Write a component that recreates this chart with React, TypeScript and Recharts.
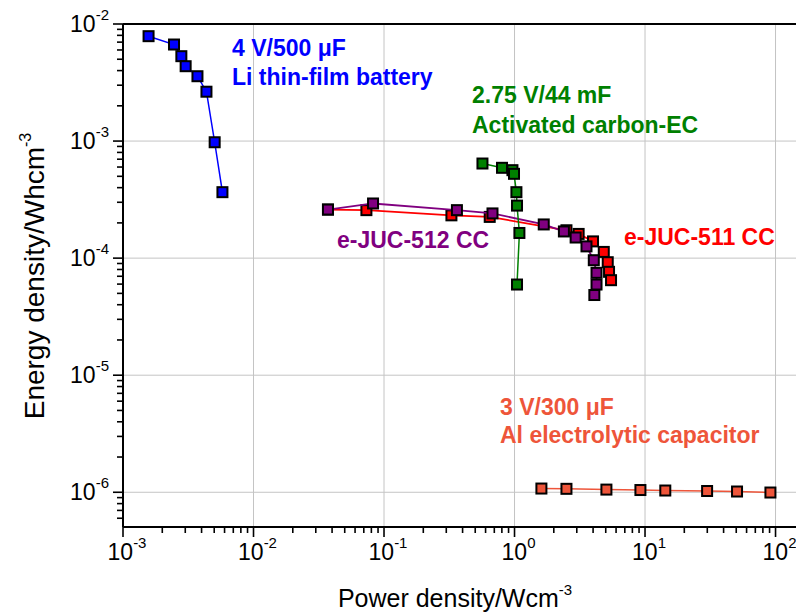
import React from 'react';
import { ScatterChart, Scatter, XAxis, YAxis, ReferenceLine } from 'recharts';

const FONT = '"Liberation Sans", Arial, Helvetica, sans-serif';

// ---- tick labels ----
const xMajorTicks = [1e-3, 1e-2, 1e-1, 1, 10, 100];
const xTickExponents = ['-3', '-2', '-1', '0', '1', '2'];
const yMajorTicks = [1e-6, 1e-5, 1e-4, 1e-3, 1e-2];
const yTickExponents = ['-6', '-5', '-4', '-3', '-2'];
const minorMultipliers = [2, 3, 4, 5, 6, 7, 8, 9];

const xDomain = [1e-3, 143.5];
const yDomain = [5.05e-7, 1e-2];

// ---- series: Li thin-film battery (4 V/500 uF) ----
const liBatteryPower = [0.00157, 0.00246, 0.0028, 0.00302, 0.00372, 0.00436, 0.00504, 0.00578];
const liBatteryEnergy = [0.00787, 0.00668, 0.00531, 0.00436, 0.00358, 0.00264, 0.000977, 0.000366];

// ---- series: Activated carbon EC (2.75 V/44 mF) ----
const carbonPower = [0.568, 0.802, 0.964, 0.991, 1.034, 1.045, 1.09, 1.045];
const carbonEnergy = [0.000643, 0.000591, 0.000564, 0.000525, 0.000366, 0.000281, 0.000164, 0.0000595];

// ---- series: e-JUC-511 CC ----
const juc511Power = [0.0372, 0.0733, 0.3285, 0.6457, 2.5, 3.1, 3.995, 4.83, 5.18, 5.3, 5.49];
const juc511Energy = [0.00026, 0.000257, 0.000232, 0.000225, 0.000173, 0.000161, 0.000139, 0.000113, 0.0000923, 0.0000764, 0.0000648];

// ---- series: e-JUC-512 CC ----
const juc512Power = [0.0372, 0.0824, 0.362, 0.678, 1.675, 2.39, 2.94, 3.56, 4.05, 4.25, 4.25, 4.09];
const juc512Energy = [0.00026, 0.000293, 0.000257, 0.000241, 0.000194, 0.000169, 0.00015, 0.000126, 0.000096, 0.0000749, 0.0000595, 0.0000484];

// ---- series: Al electrolytic capacitor (3 V/300 uF) ----
const alCapPower = [1.607, 2.5, 5.06, 9.22, 14.3, 29.9, 50.7, 91.4];
const alCapEnergy = [1.076e-6, 1.07e-6, 1.054e-6, 1.045e-6, 1.035e-6, 1.025e-6, 1.015e-6, 0.995e-6];

const zip = (xs: number[], ys: number[]) => xs.map((x, i) => ({ x, y: ys[i] }));

const liBatteryData = zip(liBatteryPower, liBatteryEnergy);
const carbonData = zip(carbonPower, carbonEnergy);
const juc511Data = zip(juc511Power, juc511Energy);
const juc512Data = zip(juc512Power, juc512Energy);
const alCapData = zip(alCapPower, alCapEnergy);

const buildTicks = (majors: number[], domain: number[]) => {
  const out: number[] = [];
  majors.forEach((m) => {
    out.push(m);
    minorMultipliers.forEach((k) => out.push(m * k));
  });
  const lowDecade = majors[0] / 10;
  minorMultipliers.forEach((k) => out.push(lowDecade * k));
  return out
    .filter((v) => v >= domain[0] * 0.9999 && v <= domain[1] * 1.0001)
    .sort((a, b) => a - b);
};

const xTicks = buildTicks(xMajorTicks, xDomain);
const yTicks = buildTicks(yMajorTicks, yDomain);

const majorIndex = (v: number, majors: number[]) =>
  majors.findIndex((t) => Math.abs(Math.log10(t) - Math.log10(v)) < 1e-6);

const XTick = (props: any) => {
  const { x, y, payload } = props;
  const idx = majorIndex(payload.value, xMajorTicks);
  const major = idx >= 0;
  return (
    <g>
      <line x1={x} x2={x} y1={y} y2={y + (major ? 10 : 6)} stroke="#000" strokeWidth={1.6} />
      {major && (
        <text x={x + 4} y={y + 33} textAnchor="middle" fontFamily={FONT} fontSize={23} fill="#000">
          <tspan>10</tspan>
          <tspan dy={-12} fontSize={15}>{xTickExponents[idx]}</tspan>
        </text>
      )}
    </g>
  );
};

const YTick = (props: any) => {
  const { x, y, payload } = props;
  const idx = majorIndex(payload.value, yMajorTicks);
  const major = idx >= 0;
  return (
    <g>
      <line x1={x - (major ? 10 : 6)} x2={x} y1={y} y2={y} stroke="#000" strokeWidth={1.6} />
      {major && (
        <text x={x - 14} y={y + 8} textAnchor="end" fontFamily={FONT} fontSize={23} fill="#000">
          <tspan>10</tspan>
          <tspan dy={-12} fontSize={15}>{yTickExponents[idx]}</tspan>
        </text>
      )}
    </g>
  );
};

const squareShape = (fill: string) => (props: any) => {
  const { cx, cy } = props;
  if (cx == null || cy == null) return null;
  return <rect x={cx - 5} y={cy - 5} width={10} height={10} fill={fill} stroke="#000" strokeWidth={2} />;
};

const BLUE = '#0000ff';
const GREEN = '#008000';
const PURPLE = '#800080';
const RED = '#ff0000';
const ORANGE = '#ee553a';
const GRID = '#c4c4c4';

const annotations = [
  { text: '4 V/500 \u03bcF', x: 232, y: 56, color: BLUE },
  { text: 'Li thin-film battery', x: 232, y: 85, color: BLUE },
  { text: '2.75 V/44 mF', x: 472, y: 103, color: GREEN },
  { text: 'Activated carbon-EC', x: 472, y: 133, color: GREEN },
  { text: 'e-JUC-512 CC', x: 337, y: 248, color: PURPLE },
  { text: 'e-JUC-511 CC', x: 624, y: 245, color: RED },
  { text: '3 V/300 \u03bcF', x: 500, y: 415, color: ORANGE },
  { text: 'Al electrolytic capacitor', x: 500, y: 443, color: ORANGE },
];

export default function App() {
  return (
    <div style={{ position: 'absolute', left: 0, top: 0, width: 796, height: 614, background: '#fff' }}>
      <ScatterChart width={796} height={614} margin={{ top: 24, right: 0, bottom: 0, left: 0 }}>
        <XAxis
          type="number"
          dataKey="x"
          scale="log"
          domain={xDomain}
          allowDataOverflow
          ticks={xTicks}
          interval={0}
          tick={<XTick />}
          tickLine={false}
          tickSize={0}
          tickMargin={0}
          height={87}
          axisLine={{ stroke: '#000', strokeWidth: 2 }}
        />
        <YAxis
          type="number"
          dataKey="y"
          scale="log"
          domain={yDomain}
          allowDataOverflow
          ticks={yTicks}
          interval={0}
          tick={<YTick />}
          tickLine={false}
          tickSize={0}
          tickMargin={0}
          width={123}
          axisLine={{ stroke: '#000', strokeWidth: 2 }}
        />
        {xMajorTicks.slice(1).map((v) => (
          <ReferenceLine key={'gx' + v} x={v} stroke={GRID} strokeWidth={1} />
        ))}
        {yMajorTicks.slice(0, -1).map((v) => (
          <ReferenceLine key={'gy' + v} y={v} stroke={GRID} strokeWidth={1} />
        ))}
        <ReferenceLine y={yMajorTicks[yMajorTicks.length - 1]} stroke="#000" strokeWidth={2} />
        <Scatter data={juc511Data} line={{ stroke: RED, strokeWidth: 1.8 }} shape={squareShape(RED)} isAnimationActive={false} />
        <Scatter data={juc512Data} line={{ stroke: PURPLE, strokeWidth: 1.8 }} shape={squareShape(PURPLE)} isAnimationActive={false} />
        <Scatter data={carbonData} line={{ stroke: GREEN, strokeWidth: 1.5 }} shape={squareShape(GREEN)} isAnimationActive={false} />
        <Scatter data={liBatteryData} line={{ stroke: BLUE, strokeWidth: 1.5 }} shape={squareShape(BLUE)} isAnimationActive={false} />
        <Scatter data={alCapData} line={{ stroke: ORANGE, strokeWidth: 1.5 }} shape={squareShape(ORANGE)} isAnimationActive={false} />
      </ScatterChart>
      <svg
        width={796}
        height={614}
        style={{ position: 'absolute', left: 0, top: 0, pointerEvents: 'none' }}
      >
        {annotations.map((a) => (
          <text key={a.text} x={a.x} y={a.y} fill={a.color} fontFamily={FONT} fontWeight="bold" fontSize={23}>
            {a.text}
          </text>
        ))}
        <text x={455} y={607} textAnchor="middle" fontFamily={FONT} fontSize={25} fill="#000">
          <tspan>Power density/Wcm</tspan>
          <tspan dy={-12} fontSize={15}>-3</tspan>
        </text>
        <text transform="translate(44,276) rotate(-90)" textAnchor="middle" fontFamily={FONT} fontSize={28} fill="#000">
          <tspan>Energy density/Whcm</tspan>
          <tspan dy={-13} fontSize={16}>-3</tspan>
        </text>
      </svg>
    </div>
  );
}
